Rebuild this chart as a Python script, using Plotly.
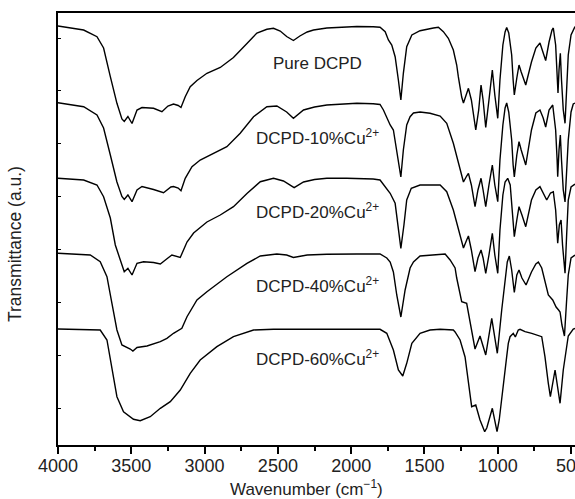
import plotly.graph_objects as go

# ---------------- data ----------------
# wavenumbers (cm^-1) and transmittance (a.u., stacked) for each spectrum

wn_pure = [4000, 3900, 3825, 3734, 3689, 3643, 3598, 3564, 3548, 3523, 3495, 3461, 3427, 3348, 3291, 3250,
           3212, 3180, 3161, 3132, 3098, 3052, 2984, 2893, 2803, 2711, 2643, 2575, 2530, 2484, 2440, 2394,
           2350, 2300, 2257, 2166, 2030, 1961, 1850, 1803, 1768, 1746, 1723, 1700, 1678, 1661, 1644, 1621,
           1586, 1530, 1439, 1405, 1371, 1337, 1303, 1280, 1269, 1246, 1234, 1212, 1200, 1180, 1150, 1130,
           1114, 1100, 1082, 1060, 1037, 1020, 1000, 985, 965, 950, 939, 925, 905, 895, 887, 870, 855, 840,
           809, 770, 740, 712, 690, 673, 650, 630, 621, 605, 595, 589, 582, 573, 565, 553, 541, 530, 519,
           500, 478, 473]
t_pure = [419, 417, 415, 408.3, 397, 368.3, 341.7, 326, 323.5, 328.5, 321.5, 335, 337.5, 336.7, 333.3, 339,
          341, 339.5, 337.5, 348.3, 358.3, 364.5, 371.7, 377.5, 387.5, 401.5, 412, 415.7, 416.7, 414, 408.5, 404.5,
          409, 413, 415, 417, 418.3, 418.5, 418.2, 417.7, 413.3, 405, 400, 388.3, 365, 345, 371.7, 398.3,
          410, 414.3, 417, 417.7, 413.3, 406.7, 395, 380, 368.3, 348, 342, 352, 356.7, 345, 315, 335,
          360, 345, 317.5, 345, 375, 350, 326.7, 365, 400, 413, 417.5, 412, 390, 365, 350, 367, 380, 373,
          360, 383, 397, 402, 393, 384.5, 403, 415, 417, 400, 370, 352, 375, 391.7, 365, 335, 321.7, 355, 390,
          410, 418, 418.5]

wn_10 = [4000, 3900, 3825, 3734, 3689, 3643, 3598, 3564, 3548, 3523, 3495, 3461, 3427, 3348, 3280, 3230,
         3212, 3180, 3161, 3132, 3086, 3030, 2939, 2848, 2757, 2666, 2575, 2507, 2440, 2394, 2325, 2250,
         2166, 2050, 1961, 1850, 1803, 1780, 1757, 1734, 1712, 1689, 1661, 1644, 1621, 1598, 1575, 1530,
         1462, 1393, 1348, 1303, 1269, 1246, 1234, 1212, 1200, 1180, 1155, 1135, 1114, 1100, 1082, 1060,
         1037, 1020, 1000, 985, 965, 950, 939, 925, 905, 895, 887, 870, 855, 840, 809, 770, 740, 712, 690,
         673, 650, 625, 605, 595, 591, 582, 573, 565, 553, 541, 530, 519, 500, 485, 473]
t_10 = [342.3, 340, 338.3, 330, 317, 290, 263, 248.5, 245.5, 250, 243.3, 255, 258.5, 255.5, 252.3, 258,
        258.5, 257, 254.3, 266.7, 278.3, 285, 291.7, 298.3, 311.7, 328.3, 338.3, 339, 333, 326.7, 335, 338,
        340, 341, 341.7, 341.2, 340.5, 335, 327, 320, 315, 295, 268, 295, 320, 328.3, 332, 333,
        331.7, 329, 321.7, 301.7, 281.7, 267, 263, 269, 271.7, 260, 238.3, 255, 266.7, 255, 238.3, 260,
        280, 260, 243.3, 285, 320, 337, 342, 333, 305, 280, 268, 290, 303.3, 295, 280, 315, 332, 335, 327,
        318, 335, 340, 315, 285, 268.3, 295, 310, 285, 255, 243, 270, 305, 333, 341, 342]

wn_20 = [4000, 3900, 3825, 3734, 3689, 3643, 3609, 3575, 3553, 3548, 3523, 3495, 3461, 3416, 3348, 3302,
         3250, 3223, 3166, 3120, 3075, 3030, 2984, 2893, 2803, 2711, 2620, 2530, 2462, 2389, 2325, 2250,
         2166, 2030, 1961, 1850, 1803, 1768, 1734, 1700, 1680, 1661, 1640, 1621, 1590, 1530, 1393, 1348,
         1303, 1269, 1246, 1234, 1212, 1200, 1180, 1155, 1135, 1114, 1100, 1082, 1060, 1037, 1020, 1000,
         985, 965, 950, 932, 915, 900, 887, 870, 855, 835, 809, 770, 740, 712, 690, 666, 640, 621, 605,
         591, 580, 568, 558, 541, 530, 519, 500, 485, 473]
t_20 = [266.7, 265.5, 265, 260, 248.3, 227, 200, 185, 175, 173.3, 176.7, 170, 181.7, 183.3, 182.5, 181,
        187, 190, 187.5, 203, 212, 217, 223, 230, 238.3, 251.5, 263.3, 266.7, 264, 257.3, 263, 265.5,
        266.7, 266.7, 266.7, 266, 265, 258.3, 251.7, 241.7, 220, 196.7, 220, 245, 256.7, 260, 260, 253.3,
        235, 215, 201, 197, 205, 209, 195, 173.3, 187, 195, 187, 171.7, 190, 211.7, 190, 171.7,
        215, 250, 263, 266.7, 260, 235, 208.3, 225, 238.3, 230, 218.3, 245, 255, 258.3, 252, 245, 252, 253.3, 235,
        201.7, 220, 225, 200, 171.7, 210, 245, 258, 260, 261]

wn_40 = [4000, 3900, 3780, 3712, 3666, 3632, 3598, 3564, 3530, 3507, 3489, 3461, 3393, 3302, 3257, 3212,
         3155, 3120, 3052, 2984, 2848, 2711, 2620, 2507, 2440, 2394, 2300, 2166, 1961, 1803, 1757, 1734,
         1712, 1689, 1661, 1632, 1598, 1575, 1530, 1416, 1359, 1325, 1291, 1280, 1257, 1246, 1212, 1178,
         1155, 1121, 1082, 1041, 1020, 1003, 973, 950, 935, 921, 905, 887, 870, 855, 835, 807, 770, 740,
         723, 700, 678, 655, 625, 602, 585, 575, 562, 545, 530, 519, 500, 478, 473]
t_40 = [191.7, 191.2, 190, 183.3, 168.3, 141.7, 115, 100, 97.7, 96, 94, 97.5, 99, 103.3, 106.7, 111.7,
        116.7, 128.3, 145, 153.3, 168.3, 181.7, 189, 191, 190, 187.5, 190, 190.7, 191, 191, 187, 183,
        173, 150, 128, 155, 177, 183, 189, 190, 191, 185, 177, 167, 153, 143.3, 141.7, 115,
        96, 109, 90, 126.7, 105, 91.7, 135, 165, 183, 189, 175, 152.5, 170, 175, 167, 160, 173, 181,
        183, 177, 163, 150, 145, 138, 135, 133, 120, 109, 145, 170, 187, 190, 190]

wn_60 = [4000, 3900, 3780, 3712, 3666, 3632, 3598, 3553, 3485, 3439, 3371, 3302, 3234, 3166, 3098, 3030,
         2916, 2803, 2666, 2530, 2300, 2100, 1961, 1803, 1757, 1712, 1678, 1648, 1621, 1586, 1530, 1462,
         1393, 1303, 1291, 1257, 1223, 1200, 1178, 1150, 1121, 1089, 1075, 1037, 1005, 990, 973, 950,
         939, 928, 916, 894, 880, 860, 848, 814, 768, 700, 678, 655, 641, 609, 575, 553, 525, 519, 485, 473]
t_60 = [116, 115.8, 115.5, 115, 105, 75, 48.3, 33.3, 25.7, 24.3, 28.3, 36.7, 43.3, 55, 71.7, 85,
        98.3, 108.3, 115, 115.7, 115.5, 115.5, 115.7, 115.7, 111.7, 95, 75, 69, 81.7, 101.7, 111.7, 115,
        115.7, 115, 113, 105, 88, 65, 38.3, 40, 25, 13.3, 17, 36.7, 13.3, 25, 48.3, 75,
        88.3, 101.7, 108.3, 111.7, 108, 115, 115.7, 113.3, 111.7, 108.3, 88.3, 61.7, 48.3, 75, 41.7, 75, 105, 109, 116, 116.5]

labels = ["Pure DCPD", "DCPD-10%Cu<sup>2+</sup>", "DCPD-20%Cu<sup>2+</sup>",
          "DCPD-40%Cu<sup>2+</sup>", "DCPD-60%Cu<sup>2+</sup>"]
label_y = [382, 308, 234, 160, 87]
label_x = 2230

x_ticks = [4000, 3500, 3000, 2500, 2000, 1500, 1000, 500]

series = [(wn_pure, t_pure), (wn_10, t_10), (wn_20, t_20), (wn_40, t_40), (wn_60, t_60)]

# ---------------- figure ----------------
fig = go.Figure()
for (wx, ty), name in zip(series, labels):
    fig.add_trace(go.Scatter(x=wx, y=ty, mode="lines", name=name,
                             line=dict(color="black", width=1.4), showlegend=False))

FONT = "Liberation Sans, Arial, Helvetica, sans-serif"
TXT = "#222222"

fig.update_layout(
    width=575, height=499,
    margin=dict(l=58, r=0, t=13, b=54, pad=0),
    plot_bgcolor="white", paper_bgcolor="white",
    showlegend=False,
    font=dict(family=FONT, color=TXT, size=16),
)

fig.update_xaxes(
    range=[4000, 473], autorange=False,
    showline=True, linecolor="black", linewidth=2, mirror=True,
    ticks="outside", ticklen=7, tickwidth=1.5, tickcolor="black",
    tickvals=x_ticks, ticktext=[str(v) for v in x_ticks],
    minor=dict(dtick=250, tick0=0, ticks="outside", ticklen=4, tickwidth=1.5, tickcolor="black"),
    showgrid=False, zeroline=False, automargin=False,
    ticklabeloverflow="allow", ticklabelstandoff=-4,
    tickfont=dict(family=FONT, size=18, color=TXT),
)
fig.update_yaxes(
    range=[0, 432], autorange=False,
    showline=True, linecolor="black", linewidth=2, mirror=False,
    ticks="inside", ticklen=3, tickwidth=1, tickcolor="black",
    tick0=36.7, dtick=52.9, showticklabels=False,
    showgrid=False, zeroline=False, automargin=False,
)

for txt, yy in zip(labels, label_y):
    fig.add_annotation(x=label_x, y=yy, xref="x", yref="y", text=txt, showarrow=False,
                       xanchor="center", yanchor="middle",
                       font=dict(family=FONT, size=17, color=TXT))

# axis titles
fig.add_annotation(x=(306.5 - 58) / 517, y=(445 - 488) / 432, xref="paper", yref="paper",
                   text="Wavenumber (cm<sup>\u22121</sup>)", showarrow=False,
                   xanchor="center", yanchor="middle", font=dict(family=FONT, size=17, color=TXT))
fig.add_annotation(x=(15 - 58) / 517, y=(445 - 244) / 432, xref="paper", yref="paper",
                   text="Transmittance (a.u.)", showarrow=False, textangle=-90,
                   xanchor="center", yanchor="middle", font=dict(family=FONT, size=17.5, color=TXT))

# remove the default page margin so the figure sits at the window origin
fig.write_html("out.html",
               config={"displayModeBar": False},
               post_script="document.body.style.margin='0';document.body.style.overflow='hidden';")
